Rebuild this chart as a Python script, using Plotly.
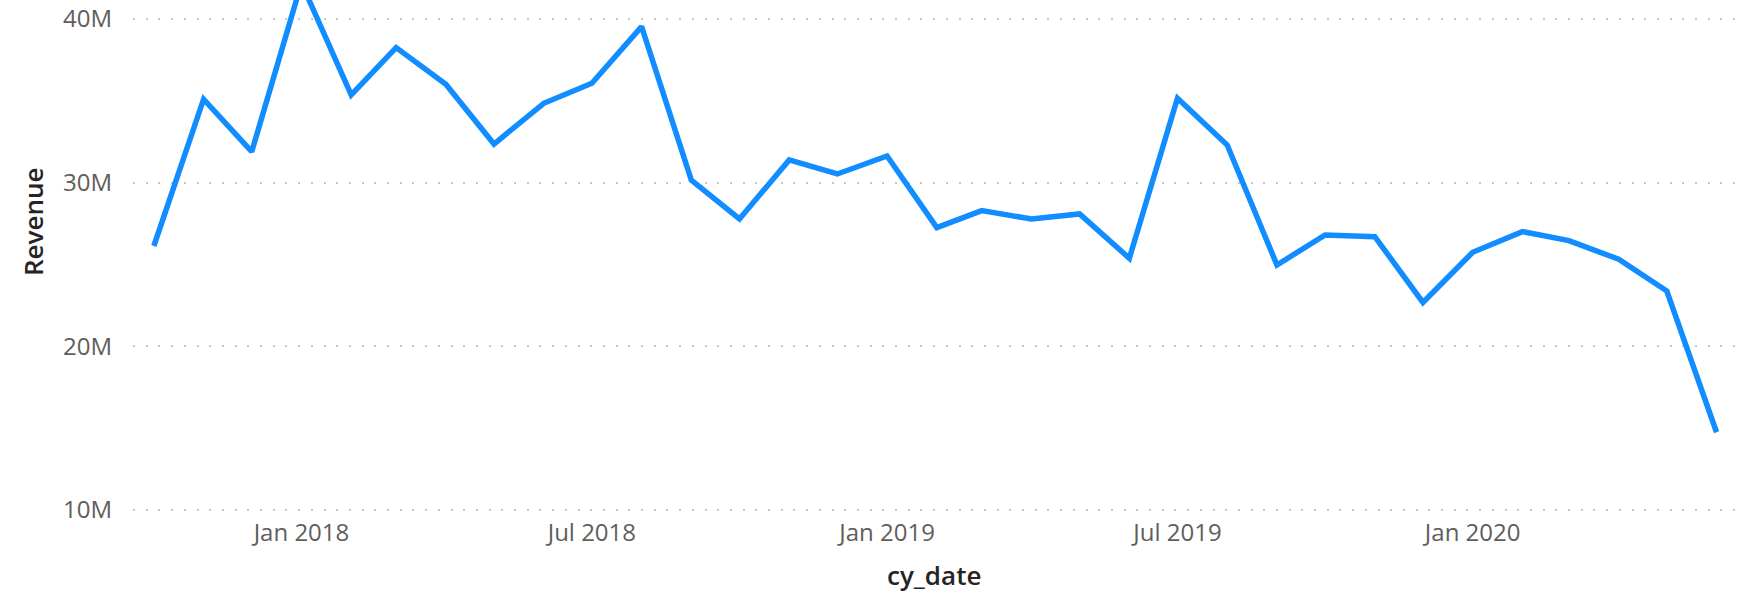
import plotly.graph_objects as go

months = [
    "2017-10-01", "2017-11-01", "2017-12-01",
    "2018-01-01", "2018-02-01", "2018-03-01", "2018-04-01", "2018-05-01", "2018-06-01",
    "2018-07-01", "2018-08-01", "2018-09-01", "2018-10-01", "2018-11-01", "2018-12-01",
    "2019-01-01", "2019-02-01", "2019-03-01", "2019-04-01", "2019-05-01", "2019-06-01",
    "2019-07-01", "2019-08-01", "2019-09-01", "2019-10-01", "2019-11-01", "2019-12-01",
    "2020-01-01", "2020-02-01", "2020-03-01", "2020-04-01", "2020-05-01", "2020-06-01",
]
revenue = [
    26.13e6, 35.10e6, 31.89e6,
    42.20e6, 35.36e6, 38.25e6, 36.01e6, 32.36e6, 34.85e6,
    36.07e6, 39.53e6, 30.16e6, 27.78e6, 31.39e6, 30.53e6,
    31.63e6, 27.25e6, 28.29e6, 27.78e6, 28.09e6, 25.38e6,
    35.16e6, 32.30e6, 24.97e6, 26.80e6, 26.70e6, 22.68e6,
    25.75e6, 27.01e6, 26.46e6, 25.32e6, 23.38e6, 14.75e6,
]
y_tick_vals = [10e6, 20e6, 30e6, 40e6]
y_tick_text = ["10M", "20M", "30M", "40M"]
x_tick_vals = ["2018-01-01", "2018-07-01", "2019-01-01", "2019-07-01", "2020-01-01"]
x_tick_text = ["Jan 2018", "Jul 2018", "Jan 2019", "Jul 2019", "Jan 2020"]

fig = go.Figure()
fig.add_trace(go.Scatter(
    x=months, y=revenue, mode="lines",
    line=dict(color="#118DFF", width=5.5),
    hoverinfo="x+y", showlegend=False,
))

grid = dict(showgrid=True, gridcolor="#C8C6C4", gridwidth=2, griddash="2px,10.7px")
tickfont = dict(family="Open Sans", size=24, color="#605E5C")
titlefont = dict(family="Open Sans", size=26, color="#252423", weight=600)

plot_h = 512  # plot area height in px (margin t=0, b=81)

fig.update_layout(
    width=1751, height=593,
    margin=dict(l=133, r=16, t=0, b=81),
    paper_bgcolor="white", plot_bgcolor="white",
    font=dict(family="Open Sans"),
    xaxis=dict(
        type="date",
        range=["2017-09-18 00:00", "2020-06-12 12:00"],
        tickvals=x_tick_vals, ticktext=x_tick_text,
        showgrid=False, zeroline=False, showline=False,
        tickfont=tickfont, ticks="", ticklabelstandoff=4,
        automargin=False,
    ),
    yaxis=dict(
        range=[9.878e6, 41.16e6],
        tickvals=y_tick_vals, ticktext=y_tick_text,
        zeroline=False, showline=False,
        tickfont=tickfont, ticks="", ticklabelstandoff=20,
        automargin=False,
        **grid,
    ),
    annotations=[
        dict(text="Revenue", xref="paper", yref="paper",
             x=-(133 - 33) / 1602, y=(plot_h - 222) / plot_h,
             xanchor="center", yanchor="middle",
             textangle=-90, showarrow=False, font=titlefont),
        dict(text="cy_date", xref="paper", yref="paper",
             x=0.5, y=-(575 - plot_h) / plot_h,
             xanchor="center", yanchor="middle",
             showarrow=False, font=titlefont),
    ],
)

fig.write_html(
    "out.html",
    config={"displayModeBar": False},
    post_script="document.body.style.margin='0px';document.body.style.overflow='hidden';",
)
